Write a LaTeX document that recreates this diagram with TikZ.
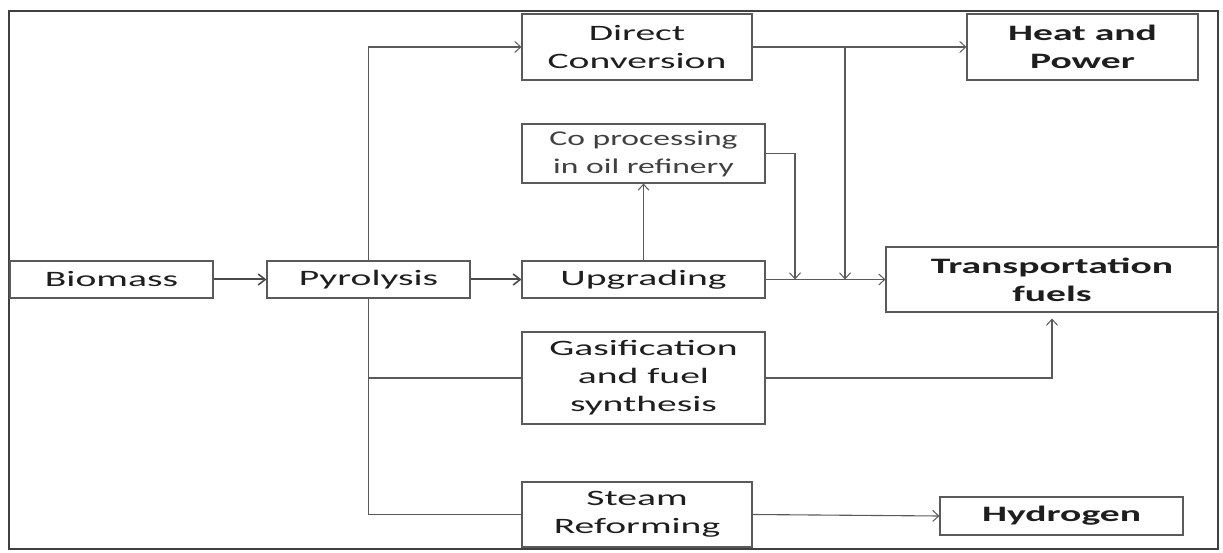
\documentclass[tikz,border=0pt]{standalone}
\usepackage{fontspec}
\usetikzlibrary{arrows.meta}
\newfontfamily\diafont{Carlito}[FakeStretch=1.8]
\newfontfamily\diafontn{Carlito}[FakeStretch=1.6]
\definecolor{linegray}{HTML}{5A5A5A}
\definecolor{txt}{HTML}{1E1E1E}
\tikzset{
  box/.style={draw=linegray, line width=1.1pt, inner sep=0pt, align=center, text=txt,
    font=\diafont\fontsize{22}{28}\selectfont},
  boldbox/.style={box, font=\diafont\bfseries\fontsize{22}{28}\selectfont},
  conn/.style={draw=linegray, line width=1.1pt},
  arr/.style={conn, -{Straight Barb[length=6pt,width=11pt,line width=1pt]}},
  thickarr/.style={draw=txt!80, line width=2pt, -{Straight Barb[length=7pt,width=11pt,line width=1.6pt]}},
}
\begin{document}
\begin{tikzpicture}[x=1pt,y=-1pt]
\useasboundingbox (0,0) rectangle (1223,553);
\draw[draw=txt!85, line width=2pt] (9,11) rectangle (1218,549);

\node[box, minimum width=203pt, minimum height=37pt] (bio) at (111.5,279.5) {Biomass};
\node[box, minimum width=203pt, minimum height=37pt] (pyr) at (368.5,279.5) {Pyrolysis};
\node[box, minimum width=243pt, minimum height=37pt] (upg) at (643.5,279.5) {Upgrading};
\node[box, minimum width=230pt, minimum height=66pt] (dc) at (637,47) {Direct\\Conversion};
\node[boldbox, minimum width=231pt, minimum height=66pt] (hp) at (1082.5,47) {Heat and\\Power};
\node[box, minimum width=243pt, minimum height=59pt, font=\diafontn\fontsize{21}{28}\selectfont, text=txt!85] (cop) at (643.5,153.5) {Co processing\\in oil refinery};
\node[boldbox, minimum width=332pt, minimum height=65pt] (tf) at (1052,279.5) {Transportation\\fuels};
\node[box, minimum width=243pt, minimum height=92pt] (gas) at (643.5,378) {Gasification\\and fuel\\synthesis};
\node[box, minimum width=230pt, minimum height=65pt] (sr) at (637,514.5) {Steam\\Reforming};
\node[boldbox, minimum width=243pt, minimum height=38pt] (hy) at (1061.5,516) {Hydrogen};

\coordinate (j1) at (845,47);
\coordinate (j1e) at (845,279.5);
\coordinate (c1) at (795,279.5);

\draw[thickarr] (bio.east) -- (pyr.west);
\draw[thickarr] (pyr.east) -- (upg.west);
\draw[arr] (pyr.north) |- (dc.west);
\draw[conn] (pyr.south) |- (sr.west);
\draw[conn] (pyr.south) |- (gas.west);
\draw[arr] (dc.east) -- (hp.west);
\draw[arr] (j1) -- (j1e);
\draw[arr] (cop.east) -| (c1);
\draw[arr] (upg.east) -- (tf.west);
\draw[arr] (upg.north) -- (cop.south);
\draw[arr, shorten >=6pt] (gas.east) -| (tf.south);
\draw[arr] (sr.east) -- (hy.west);
\end{tikzpicture}
\end{document}
